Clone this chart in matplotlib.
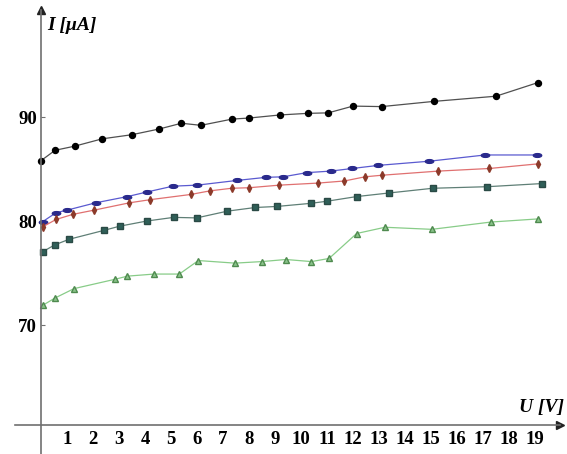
import matplotlib
matplotlib.use('Agg')
import matplotlib.pyplot as plt
import matplotlib.path as mpath
import numpy as np

# Measured I(U) curves, five samples.
u_black = [0, 0.54, 1.3, 2.35, 3.5, 4.55, 5.4, 6.15, 7.35, 8.0, 9.2, 10.25, 11.05, 12.0, 13.1, 15.1, 17.5, 19.1]
i_black = [85.8, 86.8, 87.2, 87.9, 88.3, 88.85, 89.4, 89.2, 89.8, 89.9, 90.2, 90.35, 90.4, 91.05, 91.0, 91.5, 92.0, 93.3]

u_blue = [0.07, 0.58, 1.01, 2.1, 3.32, 4.09, 5.07, 6.01, 7.53, 8.65, 9.31, 10.22, 11.14, 11.97, 12.97, 14.93, 17.08, 19.06]
i_blue = [79.95, 80.8, 81.05, 81.75, 82.35, 82.8, 83.35, 83.45, 83.9, 84.2, 84.25, 84.65, 84.8, 85.05, 85.35, 85.75, 86.35, 86.35]

u_red = [0.07, 0.58, 1.24, 2.05, 3.4, 4.19, 5.75, 6.5, 7.33, 8.0, 9.17, 10.67, 11.67, 12.46, 13.1, 15.28, 17.24, 19.13]
i_red = [79.45, 80.15, 80.65, 81.05, 81.75, 82.05, 82.55, 82.9, 83.15, 83.2, 83.45, 83.65, 83.85, 84.25, 84.4, 84.8, 85.05, 85.5]

u_teal = [0.07, 0.52, 1.09, 2.42, 3.02, 4.07, 5.1, 5.99, 7.17, 8.24, 9.07, 10.38, 10.99, 12.14, 13.4, 15.07, 17.17, 19.26]
i_teal = [77.05, 77.7, 78.25, 79.1, 79.5, 80.0, 80.35, 80.3, 80.95, 81.3, 81.4, 81.7, 81.9, 82.35, 82.7, 83.15, 83.3, 83.6]

u_green = [0.07, 0.54, 1.27, 2.85, 3.32, 4.35, 5.32, 6.05, 7.46, 8.49, 9.42, 10.4, 11.08, 12.14, 13.23, 15.03, 17.3, 19.1]
i_green = [71.9, 72.6, 73.5, 74.4, 74.7, 74.9, 74.9, 76.2, 75.95, 76.1, 76.3, 76.1, 76.4, 78.8, 79.4, 79.2, 79.9, 80.2]

x_labels = list(range(1, 20))
x_marks = [1, 3, 4, 5, 6, 7, 9, 11, 12, 13, 14, 15, 17, 18, 19]
y_labels = [70, 80, 90]

x0_axis = 60.38  # where the U axis crosses

fig = plt.figure(figsize=(5.67, 4.54), dpi=100)
ax = fig.add_axes([0, 0, 1, 1])
ax.set_xlim(-1.577, 20.23)
ax.set_ylim(57.6, 101.25)

# flat ellipse marker for the blue series
circ = mpath.Path.unit_circle()
ellipse = mpath.Path(circ.vertices * np.array([1.0, 0.45]), circ.codes)

ax.plot(u_black, i_black, color='#505050', lw=0.9, marker='o', ms=4.3,
        mfc='black', mec='black')
ax.plot(u_blue, i_blue, color='#5a5ad0', lw=0.9, marker=ellipse, ms=6,
        mfc='#2a2a8c', mec='#2a2a8c')
ax.plot(u_red, i_red, color='#e07070', lw=0.9, marker='d', ms=4,
        mfc='#8c3a2a', mec='#8c3a2a')
ax.plot(u_teal, i_teal, color='#5f7f76', lw=0.9, marker='s', ms=4.2,
        mfc='#2f5f58', mec='#2a4a45')
ax.plot(u_green, i_green, color='#88cc88', lw=0.9, marker='^', ms=4.3,
        mfc='#8ac48a', mec='#4f8a4f')

# Mathematica-like crossing axes
for side in ('top', 'right'):
    ax.spines[side].set_visible(False)
ax.spines['left'].set_position(('data', 0))
ax.spines['left'].set_bounds(57.6, 100.3)
ax.spines['bottom'].set_position(('data', x0_axis))
ax.spines['bottom'].set_bounds(-1.0, 19.95)
for side in ('left', 'bottom'):
    ax.spines[side].set_color('#707070')
    ax.spines[side].set_linewidth(1.2)
ax.plot([0], [100.3], marker='^', color='#222222', ms=5.5, clip_on=False)
ax.plot([19.95], [x0_axis], marker='>', color='#222222', ms=5.5, clip_on=False)

tick_font = dict(family='Liberation Serif', weight='bold', size=13.5)
ax.set_xticks(x_labels)
ax.set_xticklabels([str(v) for v in x_labels], fontdict=tick_font)
ax.set_xticks(x_marks, minor=True)
ax.tick_params(axis='x', which='major', length=0, pad=4)
ax.tick_params(axis='x', which='minor', length=6, direction='inout',
               color='#707070', width=0.8)
ax.set_yticks(y_labels)
ax.set_yticklabels([str(v) for v in y_labels], fontdict=tick_font)
ax.tick_params(axis='y', length=3, direction='in', color='#707070', pad=3)

label_font = dict(family='Liberation Serif', weight='bold', style='italic', size=14)
ax.text(0.25, 98.8, 'I [μA]', ha='left', va='center', **label_font)
ax.text(19.25, 62.1, 'U [V]', ha='center', va='center', **label_font)

fig.savefig('out.png', dpi=100)
